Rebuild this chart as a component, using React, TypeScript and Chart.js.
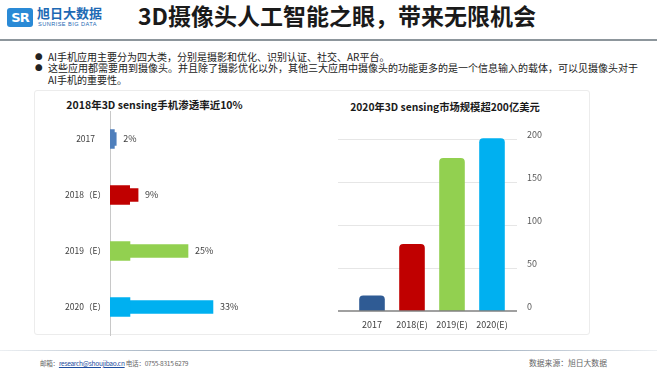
import React, { useEffect, useRef } from "react";
import { Chart, registerables } from "chart.js";

Chart.register(...registerables);

// ---- data ----
const penetrationCategories = ["2017", "2018（E）", "2019（E）", "2020（E）"];
const penetrationValues = [2, 9, 25, 33];
const penetrationColors = ["#4f7fbc", "#c00000", "#92d050", "#00b0f0"];

const marketCategories = ["2017", "2018(E)", "2019(E)", "2020(E)"];
const marketValues = [18, 78, 178, 201];
const marketColors = ["#2f5b94", "#c00000", "#92d050", "#00b0f0"];
const marketTicks = [0, 50, 100, 150, 200];

const FONT = "'Noto Sans CJK SC', 'Noto Sans', sans-serif";
const STUB = 6.4; // length of the wide base segment of each bar

function PenetrationChart() {
  const ref = useRef<HTMLCanvasElement>(null);
  useEffect(() => {
    if (!ref.current) return;
    const stubValues = penetrationValues.map((v) => Math.min(v * 0.7, STUB));
    const valueLabels = {
      id: "valueLabels",
      afterDatasetsDraw(chart: any) {
        const { ctx } = chart;
        const meta = chart.getDatasetMeta(1);
        ctx.save();
        ctx.font = `9px ${FONT}`;
        ctx.fillStyle = "#404040";
        ctx.textBaseline = "middle";
        ctx.textAlign = "left";
        meta.data.forEach((bar: any, i: number) => {
          ctx.fillText(`${penetrationValues[i]}%`, bar.x + 7, bar.y);
        });
        ctx.restore();
      },
    };
    const chart = new Chart(ref.current, {
      type: "bar",
      data: {
        labels: penetrationCategories,
        datasets: [
          {
            data: stubValues,
            backgroundColor: penetrationColors,
            barThickness: 19,
            grouped: false,
          } as any,
          {
            data: penetrationValues,
            backgroundColor: penetrationColors,
            barThickness: 13,
            grouped: false,
          } as any,
        ],
      },
      options: {
        indexAxis: "y",
        animation: false,
        responsive: false,
        layout: { padding: { top: 16, bottom: 10, left: 0, right: 32.8 } },
        plugins: { legend: { display: false }, tooltip: { enabled: false } },
        scales: {
          x: { display: false, min: 0, max: 60 },
          y: {
            grid: { display: false, drawTicks: false },
            border: { display: true, color: "#c8c8c8", width: 1 },
            ticks: {
              color: "#404040",
              font: { size: 8.5, family: FONT },
              padding: 4,
              crossAlign: "center",
            },
            afterFit: (s: any) => {
              s.width = 110;
            },
          },
        },
      },
      plugins: [valueLabels],
    });
    return () => chart.destroy();
  }, []);
  return <canvas ref={ref} width={330} height={250} style={{ position: "absolute", left: 0, top: 95, width: 330, height: 250 }} />;
}

function MarketChart() {
  const ref = useRef<HTMLCanvasElement>(null);
  useEffect(() => {
    if (!ref.current) return;
    const gridLines = {
      id: "gridLines",
      beforeDatasetsDraw(chart: any) {
        const { ctx, chartArea } = chart;
        const y = chart.scales.y;
        ctx.save();
        ctx.strokeStyle = "#e6e6e6";
        ctx.lineWidth = 1;
        marketTicks.forEach((v) => {
          if (v === 0) return;
          const py = Math.round(y.getPixelForValue(v)) + 0.5;
          ctx.beginPath();
          ctx.moveTo(chartArea.left - 14, py);
          ctx.lineTo(chartArea.right + 5, py);
          ctx.stroke();
        });
        ctx.restore();
      },
      afterDatasetsDraw(chart: any) {
        const { ctx, chartArea } = chart;
        const y = chart.scales.y;
        const py = y.getPixelForValue(0);
        ctx.save();
        ctx.strokeStyle = "#808080";
        ctx.lineWidth = 1.5;
        ctx.beginPath();
        ctx.moveTo(chartArea.left - 14, py);
        ctx.lineTo(chartArea.right + 5, py);
        ctx.stroke();
        ctx.restore();
      },
    };
    const chart = new Chart(ref.current, {
      type: "bar",
      data: {
        labels: marketCategories,
        datasets: [
          {
            data: marketValues,
            backgroundColor: marketColors,
            barPercentage: 0.64,
            categoryPercentage: 1,
            borderRadius: { topLeft: 4, topRight: 4, bottomLeft: 0, bottomRight: 0 },
            borderSkipped: false,
          } as any,
        ],
      },
      options: {
        animation: false,
        responsive: false,
        layout: { padding: { top: 26.8, left: 22, right: 0, bottom: 0 } },
        plugins: { legend: { display: false }, tooltip: { enabled: false } },
        scales: {
          x: {
            grid: { display: false, drawTicks: false },
            border: { display: false },
            ticks: { color: "#404040", font: { size: 9, family: FONT }, padding: 8 },
            afterFit: (s: any) => {
              s.height = 34;
            },
          },
          y: {
            position: "right",
            min: 0,
            max: 220,
            grid: { display: false, drawTicks: false },
            border: { display: false },
            ticks: { color: "#595959", font: { size: 9, family: FONT }, padding: 15, labelOffset: -4 },
            afterBuildTicks: (s: any) => {
              s.ticks = marketTicks.map((v) => ({ value: v }));
            },
            afterFit: (s: any) => {
              s.width = 145;
            },
          },
        },
      },
      plugins: [gridLines],
    });
    return () => chart.destroy();
  }, []);
  return <canvas ref={ref} width={327} height={250} style={{ position: "absolute", left: 330, top: 95, width: 327, height: 250 }} />;
}

const abs = (style: React.CSSProperties): React.CSSProperties => ({ position: "absolute", whiteSpace: "nowrap", ...style });

export default function App() {
  useEffect(() => {
    document.body.style.margin = "0";
    document.body.style.overflow = "hidden";
  }, []);
  return (
    <div style={{ position: "relative", width: 657, height: 369, background: "#ffffff", overflow: "hidden", fontFamily: FONT }}>
      {/* logo */}
      <div style={abs({ left: 7, top: 8, width: 26, height: 19, background: "#2a8ad6", borderRadius: 3, color: "#fff", fontWeight: 700, fontSize: 13, lineHeight: "19px", textAlign: "center", fontFamily: "'DejaVu Sans', sans-serif", letterSpacing: -1 })}>SR</div>
      <div style={abs({ left: 37, top: 4, fontSize: 13, lineHeight: "17px", color: "#1d69b4", fontWeight: 700 })}>旭日大数据</div>
      <div style={abs({ left: 38, top: 21, fontSize: 5.6, lineHeight: "7px", color: "#1d69b4", letterSpacing: 0.45, fontFamily: "'Liberation Sans', sans-serif" })}>SUNRISE BIG DATA</div>
      {/* title */}
      <div style={abs({ left: 138, top: 1, fontSize: 23, lineHeight: "28px", fontWeight: 700, color: "#1a1a1a" })}>3D摄像头人工智能之眼，带来无限机会</div>
      <div style={abs({ left: 0, top: 39, width: 657, height: 2, background: "#8d969c" })} />
      {/* bullets */}
      <div style={abs({ left: 35, top: 49.5, fontSize: 7.5, lineHeight: "13px", color: "#222" })}>●</div>
      <div style={abs({ left: 48, top: 49.5, fontSize: 10, lineHeight: "13px", color: "#222" })}>AI手机应用主要分为四大类，分别是摄影和优化、识别认证、社交、AR平台。</div>
      <div style={abs({ left: 35, top: 61, fontSize: 7.5, lineHeight: "13px", color: "#222" })}>●</div>
      <div style={abs({ left: 48, top: 61, fontSize: 10, lineHeight: "13px", color: "#222" })}>这些应用都需要用到摄像头。并且除了摄影优化以外，其他三大应用中摄像头的功能更多的是一个信息输入的载体，可以见摄像头对于</div>
      <div style={abs({ left: 48, top: 72.5, fontSize: 10, lineHeight: "13px", color: "#222" })}>AI手机的重要性。</div>
      {/* panel */}
      <div style={abs({ left: 34, top: 90, width: 556, height: 245, border: "1px solid #ececec", borderRadius: 3, boxSizing: "border-box" })} />
      {/* chart titles */}
      <div style={abs({ left: 0, width: 309, top: 98, textAlign: "center", fontSize: 10.5, lineHeight: "14px", fontWeight: 700, color: "#1a1a1a" })}>2018年3D sensing手机渗透率近10%</div>
      <div style={abs({ left: 245, width: 400, top: 99.5, textAlign: "center", fontSize: 10.3, lineHeight: "14px", fontWeight: 700, color: "#1a1a1a" })}>2020年3D sensing市场规模超200亿美元</div>
      <PenetrationChart />
      <MarketChart />
      {/* footer */}
      <div style={abs({ left: 0, top: 350, width: 657, height: 1, background: "linear-gradient(to right, rgba(160,176,192,0.2), #a6b4c3 25%, #a6b4c3 75%, rgba(160,176,192,0.2))" })} />
      <div style={abs({ left: 40, top: 357, fontSize: 6.6, letterSpacing: -0.3, lineHeight: "12px", color: "#666" })}>
        邮箱：<span style={{ color: "#1f4ea0", textDecoration: "underline" }}>research@shoujibao.cn</span> 电话：0755-8315 6279
      </div>
      <div style={abs({ left: 529, top: 357, fontSize: 7.8, lineHeight: "12px", color: "#666" })}>数据来源：旭日大数据</div>
    </div>
  );
}
